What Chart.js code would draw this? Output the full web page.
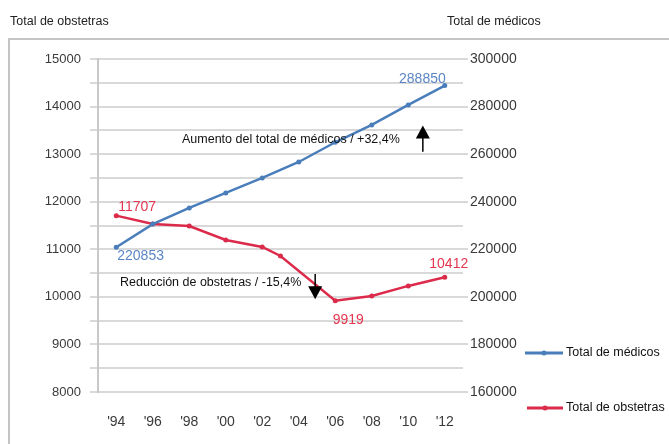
<!DOCTYPE html>
<html><head><meta charset="utf-8">
<script src="https://cdn.jsdelivr.net/npm/chart.js@4"></script>
<style>html,body{margin:0;padding:0;background:#fff}#wrap{width:669px;height:444px}</style>
</head><body><div id="wrap"><canvas id="c" width="669" height="444"></canvas></div>
<script>
const xTickYears = [1994, 1996, 1998, 2000, 2002, 2004, 2006, 2008, 2010, 2012];
const xTickLabels = ["'94", "'96", "'98", "'00", "'02", "'04", "'06", "'08", "'10", "'12"];
const medicosYears = [1994, 1996, 1998, 2000, 2002, 2004, 2006, 2008, 2010, 2012];
const medicosValues = [220853, 230600, 237400, 243700, 250000, 256700, 265000, 272300, 280700, 288850];
const obstetrasYears = [1994, 1996, 1998, 2000, 2002, 2003, 2006, 2008, 2010, 2012];
const obstetrasValues = [11707, 11530, 11490, 11195, 11050, 10860, 9919, 10020, 10230, 10412];
const seriesNames = ["Total de médicos", "Total de obstetras"];
const axisTitles = ["Total de obstetras", "Total de médicos"];
const noteTexts = ["Aumento del total de médicos / +32,4%", "Reducción de obstetras / -15,4%"];

const BLUE = '#4a7ebb', RED = '#dc2a4a';
const FONT = "'Liberation Sans', Arial, sans-serif";

const toXY = (xs, ys) => xs.map((x, i) => ({x: x, y: ys[i]}));

const extras = {
  id: 'extras',
  afterDatasetsDraw(chart) {
    const ctx = chart.ctx;
    const xs = chart.scales.x, yl = chart.scales.yL, yr = chart.scales.yR;
    ctx.save();
    // frame
    ctx.strokeStyle = '#c4c4c4'; ctx.lineWidth = 2;
    ctx.beginPath(); ctx.moveTo(9, 450); ctx.lineTo(9, 39); ctx.lineTo(675, 39); ctx.stroke();
    // axis titles
    ctx.fillStyle = '#222'; ctx.font = '12.5px ' + FONT; ctx.textBaseline = 'middle'; ctx.textAlign = 'left';
    ctx.fillText(axisTitles[0], 10, 22);
    ctx.fillText(axisTitles[1], 447, 22);
    // data labels
    ctx.font = '14px ' + FONT;
    const bn = medicosValues.length - 1, rn = obstetrasValues.length - 1;
    let px, py;
    ctx.fillStyle = '#5b86c6';
    px = xs.getPixelForValue(medicosYears[bn]); py = yr.getPixelForValue(medicosValues[bn]);
    ctx.textAlign = 'right'; ctx.fillText(String(medicosValues[bn]), px + 1, py - 6);
    px = xs.getPixelForValue(medicosYears[0]); py = yr.getPixelForValue(medicosValues[0]);
    ctx.textAlign = 'left'; ctx.fillText(String(medicosValues[0]), px + 1, py + 9);
    ctx.fillStyle = '#e43650';
    px = xs.getPixelForValue(obstetrasYears[0]); py = yl.getPixelForValue(obstetrasValues[0]);
    ctx.textAlign = 'left'; ctx.fillText(String(obstetrasValues[0]), px + 2, py - 9);
    const mi = obstetrasValues.indexOf(Math.min(...obstetrasValues));
    px = xs.getPixelForValue(obstetrasYears[mi]); py = yl.getPixelForValue(obstetrasValues[mi]);
    ctx.textAlign = 'center'; ctx.fillText(String(obstetrasValues[mi]), px + 13, py + 19);
    px = xs.getPixelForValue(obstetrasYears[rn]); py = yl.getPixelForValue(obstetrasValues[rn]);
    ctx.textAlign = 'center'; ctx.fillText(String(obstetrasValues[rn]), px + 4, py - 13);
    // notes
    ctx.fillStyle = '#111'; ctx.font = '12.5px ' + FONT; ctx.textAlign = 'left';
    ctx.fillText(noteTexts[0], 182, 140);
    ctx.fillText(noteTexts[1], 120, 283);
    // arrows
    const arrow = (x, y0, y1) => {
      ctx.strokeStyle = '#000'; ctx.fillStyle = '#000'; ctx.lineWidth = 1.5;
      const dir = Math.sign(y1 - y0);
      ctx.beginPath(); ctx.moveTo(x, y0); ctx.lineTo(x, y1 - dir * 8); ctx.stroke();
      ctx.beginPath(); ctx.moveTo(x, y1); ctx.lineTo(x - 7, y1 - dir * 13); ctx.lineTo(x + 7, y1 - dir * 13); ctx.closePath(); ctx.fill();
    };
    arrow(xs.getPixelForValue(2010.8), yr.getPixelForValue(261000), yr.getPixelForValue(272000));
    arrow(xs.getPixelForValue(2004.9), yl.getPixelForValue(10480), yl.getPixelForValue(9950));
    // legend
    ctx.font = '12.5px ' + FONT; ctx.textAlign = 'left'; ctx.fillStyle = '#111';
    const leg = (color, y, x0, label) => {
      ctx.strokeStyle = color; ctx.lineWidth = 3;
      ctx.beginPath(); ctx.moveTo(x0, y); ctx.lineTo(563, y); ctx.stroke();
      ctx.fillStyle = color; ctx.beginPath(); ctx.arc((x0 + 563) / 2, y, 2.5, 0, Math.PI * 2); ctx.fill();
      ctx.fillStyle = '#111'; ctx.fillText(label, 566, y);
    };
    leg(BLUE, 353, 525, seriesNames[0]);
    leg(RED, 408, 527, seriesNames[1]);
    ctx.restore();
  }
};

new Chart(document.getElementById('c'), {
  type: 'line',
  data: {
    datasets: [
      {label: seriesNames[0], data: toXY(medicosYears, medicosValues), yAxisID: 'yR',
       borderColor: BLUE, backgroundColor: BLUE, borderWidth: 2.5, pointRadius: 2.5, pointBorderWidth: 0, tension: 0},
      {label: seriesNames[1], data: toXY(obstetrasYears, obstetrasValues), yAxisID: 'yL',
       borderColor: RED, backgroundColor: RED, borderWidth: 2.5, pointRadius: 2.5, pointBorderWidth: 0, tension: 0}
    ]
  },
  options: {
    responsive: false, animation: false,
    layout: {padding: {top: 59, left: 0, right: 0, bottom: 0}},
    plugins: {legend: {display: false}, tooltip: {enabled: false}},
    scales: {
      x: {
        type: 'linear', min: 1993, max: 2013,
        afterBuildTicks: s => { s.ticks = xTickYears.map(v => ({value: v})); },
        afterFit: s => { s.height = 52; },
        grid: {display: false}, border: {display: false},
        ticks: {padding: 14, color: '#3a3a3a', font: {family: FONT, size: 14},
                callback: v => xTickLabels[xTickYears.indexOf(v)], maxRotation: 0, autoSkip: false}
      },
      yL: {
        position: 'left', min: 8000, max: 15000,
        afterFit: s => { s.width = 98; },
        grid: {color: '#d9d9d9', lineWidth: 2, tickLength: 8},
        border: {display: true, color: '#c8c8c8', width: 2},
        ticks: {stepSize: 500, padding: 9, color: '#3a3a3a', font: {family: FONT, size: 13},
                callback: v => (v % 1000 === 0 ? String(v) : '')}
      },
      yR: {
        position: 'right', min: 160000, max: 300000,
        afterFit: s => { s.width = 206; },
        grid: {drawOnChartArea: false, color: '#d9d9d9', lineWidth: 2, tickLength: 5},
        border: {display: false},
        ticks: {stepSize: 20000, padding: 2, color: '#3a3a3a', font: {family: FONT, size: 14},
                callback: v => String(v)}
      }
    }
  },
  plugins: [extras]
});
</script></body></html>
